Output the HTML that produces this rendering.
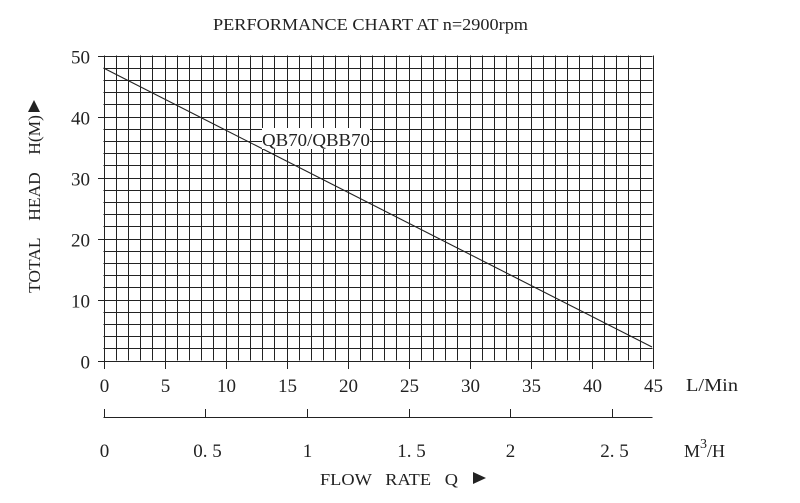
<!DOCTYPE html>
<html><head><meta charset="utf-8"><style>
html,body{margin:0;padding:0;background:#fff;}
svg{display:block;font-family:"Liberation Serif","Noto Serif CJK SC",serif;}
</style></head><body>
<svg width="800" height="503" viewBox="0 0 800 503" xmlns="http://www.w3.org/2000/svg">
<rect width="800" height="503" fill="#fff"/>
<text x="213" y="30" font-size="17" fill="#222" textLength="315" lengthAdjust="spacingAndGlyphs">PERFORMANCE CHART AT n=2900rpm</text>
<g stroke="#222" stroke-width="1" shape-rendering="crispEdges" id="g"></g>
<g id="lbl" font-size="19" fill="#222" text-anchor="middle"></g>
<line x1="103.5" y1="68" x2="652" y2="347" stroke="#222" stroke-width="1.1"/>
<rect x="262" y="128" width="108" height="21" fill="#fff"/>
<text x="262" y="146" font-size="18" fill="#222" textLength="108" lengthAdjust="spacingAndGlyphs">QB70/QBB70</text>
<text x="686" y="391" font-size="18" fill="#222" textLength="52" lengthAdjust="spacingAndGlyphs">L/Min</text>
<text x="684" y="457" font-size="18" fill="#222">M<tspan dy="-9" font-size="14">3</tspan><tspan dy="9">/H</tspan></text>
<text x="320" y="485" font-size="17" fill="#222" xml:space="preserve" textLength="138" lengthAdjust="spacingAndGlyphs">FLOW   RATE   Q</text>
<path d="M473,472 L486,478 L473,484 Z" fill="#222"/>
<text transform="translate(40,293) rotate(-90)" font-size="17" fill="#222" textLength="178" lengthAdjust="spacingAndGlyphs" xml:space="preserve">TOTAL    HEAD    H(M)</text>
<path d="M28,112 L34,100 L40,112 Z" fill="#222"/>
<script>
var g=document.getElementById('g'),l=document.getElementById('lbl'),ns='http://www.w3.org/2000/svg';
function ln(x1,y1,x2,y2){var e=document.createElementNS(ns,'line');e.setAttribute('x1',x1);e.setAttribute('y1',y1);e.setAttribute('x2',x2);e.setAttribute('y2',y2);g.appendChild(e);}
function tx(x,y,s,a){var e=document.createElementNS(ns,'text');e.setAttribute('x',x);e.setAttribute('y',y);if(a)e.setAttribute('text-anchor',a);e.textContent=s;l.appendChild(e);}
var x0=103.5,x1=652.5,y0=55.5,y1=360.5,dx=(x1-x0)/45,dy=(y1-y0)/25;
for(var i=0;i<=45;i++){var x=Math.round(x0+i*dx)+0.5;ln(x,y0,x,i%5==0?369:y1);if(i%5==0)tx(x,392,String(i));}
for(var j=0;j<=25;j++){var y=Math.round(y0+j*dy)+0.5;ln(j%5==0?98:x0,y,x1,y);if(j%5==0)tx(90,y+7,String(50-j*2),'end');}
ln(x0,417.5,x1,417.5);
var m=['0','0.5','1','1.5','2','2.5'];
for(var k=0;k<6;k++){var x=Math.round(x0+k*0.5*16.667*dx)+0.5;ln(x,409,x,417.5);tx(x+(k%2?2:0),457,m[k].replace('.','. '));}
</script>
</svg>
</body></html>
